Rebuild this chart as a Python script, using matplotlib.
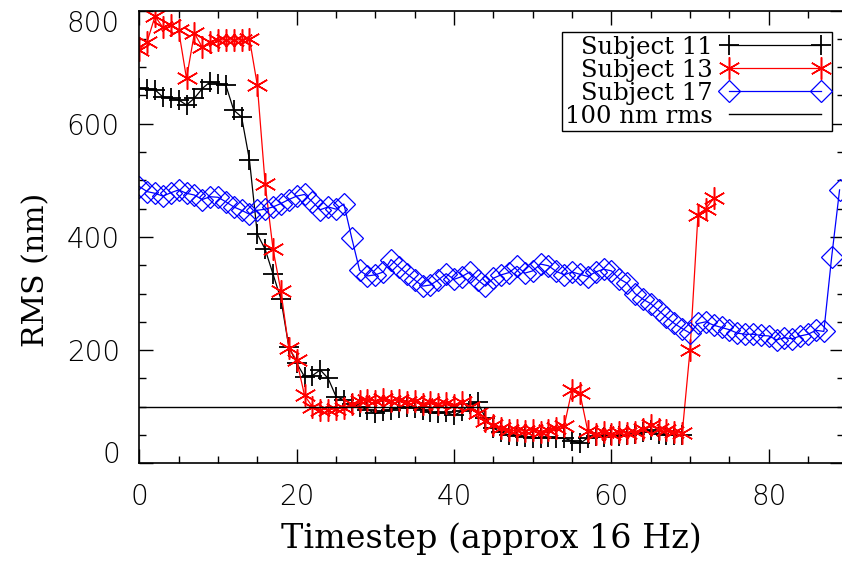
import numpy as np
import matplotlib.pyplot as plt
from matplotlib.ticker import MultipleLocator

# Subject 11 (black +), timesteps 0..69
subj11 = [663, 661, 660, 647, 645, 642, 633, 645, 662, 674,
          671, 668, 624, 612, 536, 405, 378, 334, 290, 206,
          177, 153, 155, 165, 150, 118, 112, 105, 100, 95,
          88, 92, 95, 98, 100, 98, 95, 90, 88, 90,
          85, 92, 105, 108, 80, 62, 55, 50, 48, 47,
          45, 45, 46, 45, 44, 40, 35, 45, 48, 47,
          50, 48, 50, 52, 55, 58, 52, 50, 50, 50]

# Subject 13 (red asterisk), timesteps 0..73
subj13 = [730, 745, 790, 770, 775, 765, 680, 760, 735, 745,
          748, 748, 748, 748, 750, 668, 493, 378, 304, 204,
          182, 120, 100, 95, 95, 96, 98, 105, 110, 112,
          110, 113, 110, 112, 108, 110, 105, 108, 104, 106,
          103, 108, 100, 88, 75, 68, 62, 58, 58, 57,
          59, 56, 58, 62, 66, 130, 124, 57, 52, 55,
          52, 55, 53, 55, 60, 68, 60, 58, 55, 53,
          201, 438, 450, 468]

# Subject 17 (blue diamond), timesteps 0..89
subj17 = [489, 480, 477, 472, 478, 483, 477, 474, 466, 471,
          470, 462, 453, 447, 440, 447, 449, 453, 459, 466,
          472, 475, 462, 448, 453, 449, 458, 398, 341, 331,
          333, 338, 360, 347, 335, 324, 313, 315, 324, 335,
          325, 330, 338, 324, 313, 327, 333, 337, 348, 336,
          340, 352, 349, 339, 333, 338, 334, 330, 338, 343,
          340, 326, 318, 300, 290, 282, 270, 258, 247, 238,
          230, 247, 250, 244, 240, 236, 230, 228, 228, 226,
          225, 218, 222, 220, 225, 228, 235, 233, 365, 483]

threshold = 100
labels = ["Subject 11", "Subject 13", "Subject 17", "100 nm rms"]
yticks = [0, 200, 400, 600, 800]

fig = plt.figure(figsize=(8.42, 5.63), dpi=100)
W, H = 842, 563
x0, x1 = 139.3, 843.5
ytop, ybot = 10.5, 463.3
ax = fig.add_axes([x0 / W, 1 - ybot / H, (x1 - x0) / W, (ybot - ytop) / H])

asterisk = (6, 2, 0)

ax.plot(np.arange(len(subj11)), subj11, color='black', lw=0.9,
        marker='+', ms=14, mew=1.3, label=labels[0])
ax.plot(np.arange(len(subj13)), subj13, color='red', lw=0.9,
        marker=asterisk, ms=16, mew=1.1, label=labels[1])
ax.plot(np.arange(len(subj17)), subj17, color='#0000ff', lw=0.9,
        marker='D', ms=11, mew=0.9, mfc='none', label=labels[2])
ax.axhline(threshold, color='black', lw=1.0, label=labels[3])

ax.set_xlim(0, 89.5)
ax.set_ylim(0, 800)
ax.xaxis.set_major_locator(MultipleLocator(20))
ax.xaxis.set_minor_locator(MultipleLocator(5))
ax.set_yticks(yticks)
ax.yaxis.set_minor_locator(MultipleLocator(50))
ax.tick_params(which='both', direction='in', top=True, right=True, width=1.0)
ax.tick_params(which='major', length=10, labelsize=20, pad=14)
ax.tick_params(which='minor', length=5)
for sp in ax.spines.values():
    sp.set_linewidth(1.2)

for lab in ax.get_xticklabels() + ax.get_yticklabels():
    lab.set_fontfamily('DejaVu Sans')
    lab.set_fontweight('light')
ylabs = ax.get_yticklabels()
ylabs[0].set_va('baseline')
ylabs[-1].set_va('top')

ax.set_xlabel("Timestep (approx 16 Hz)", fontsize=24, family='DejaVu Serif')
ax.set_ylabel("RMS (nm)", fontsize=21.5, family='DejaVu Serif')
ax.xaxis.set_label_coords(0.5, -0.13)
ax.yaxis.set_label_coords(-0.127, 0.427)

leg = ax.legend(loc='upper right', bbox_to_anchor=(0.9837, 0.9525),
                borderaxespad=0, markerfirst=False, numpoints=2,
                fancybox=False, edgecolor='black', framealpha=1,
                prop={'family': 'DejaVu Serif', 'size': 17.5},
                labelspacing=0.0, handlelength=4.4, handletextpad=0.35,
                borderpad=0.15)
leg.get_frame().set_linewidth(1.0)

fig.savefig('out.png', dpi=100)
